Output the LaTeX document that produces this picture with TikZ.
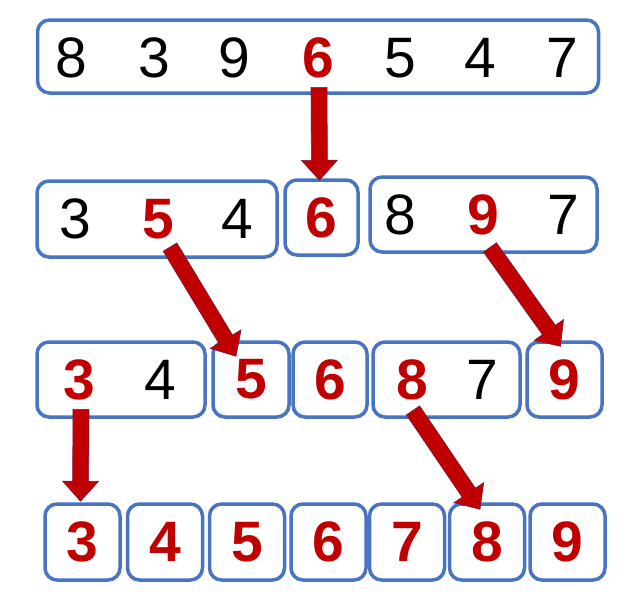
\documentclass[tikz,border=0pt]{standalone}
\usepackage{fontspec}
\setmainfont{Liberation Sans}
\usetikzlibrary{calc}
\definecolor{boxblue}{RGB}{72,116,194}
\definecolor{numred}{RGB}{192,0,0}
\definecolor{arrowedge}{RGB}{120,25,70}
\tikzset{
  box/.style={draw=boxblue, line width=3.5pt, rounded corners=12pt, minimum height=75pt, inner sep=0pt, fill=white},
  num/.style={font=\fontsize{57}{57}\selectfont, text=black, inner sep=0pt},
  hot/.style={font=\fontsize{57}{57}\selectfont\bfseries, text=numred, inner sep=0pt},
  arrowfill/.style={fill=numred, draw=arrowedge, line width=0.6pt, line join=miter},
}
\newcommand\blkarrow[2]{%
  \coordinate (hb) at ($(#2)!20pt!(#1)$);
  \filldraw[arrowfill] ($(#1)!8pt!90:(#2)$) -- ($(hb)!8pt!-90:(#1)$) -- ($(hb)!18pt!-90:(#1)$) -- (#2)
     -- ($(hb)!18pt!90:(#1)$) -- ($(hb)!8pt!90:(#1)$) -- ($(#1)!8pt!-90:(#2)$) -- cycle;}
\begin{document}
\begin{tikzpicture}[x=1pt,y=-1pt]
\useasboundingbox[fill=white] (0,0) rectangle (625,597);
% row 1
\node[box, minimum width=561pt, minimum height=73pt] (r1) at (318,56.5) {};
\node[num] (r1d1) at (71,58) {8};
\node[num] (r1d2) at (154,58) {3};
\node[num] (r1d3) at (234,58) {9};
\node[hot] (r1d4) at (318,58) {6};
\node[num] (r1d5) at (400,58) {5};
\node[num] (r1d6) at (480,58) {4};
\node[num] (r1d7) at (562,58) {7};
% row 2
\node[box, minimum width=240pt, minimum height=76pt] (r2a) at (157,219) {};
\node[num] (r2d1) at (75,219) {3};
\node[hot] (r2d2) at (158,219) {5};
\node[num] (r2d3) at (237,219) {4};
\node[box, minimum width=73pt, hot] (r2b) at (321.5,217.5) {6};
\node[box, minimum width=227pt] (r2c) at (483.5,214.5) {};
\node[num] (r2d5) at (400,215) {8};
\node[hot] (r2d6) at (483,215) {9};
\node[num] (r2d7) at (563,215) {7};
% row 3
\node[box, minimum width=168pt] (r3a) at (121,379.5) {};
\node[hot] (r3d1) at (79,380) {3};
\node[num] (r3d2) at (160,380) {4};
\node[box, minimum width=76pt, hot] (r3b) at (251,379.5) {5};
\node[box, minimum width=74pt, hot] (r3c) at (330,379.5) {6};
\node[box, minimum width=147pt] (r3d) at (446.5,379.5) {};
\node[hot] (r3d4) at (412,380) {8};
\node[num] (r3d5) at (482,380) {7};
\node[box, minimum width=75pt, hot] (r3e) at (564.5,379.5) {9};
% row 4
\node[box, minimum width=75pt, minimum height=76pt, hot] (r4a) at (82.5,542) {3};
\node[box, minimum width=75pt, minimum height=76pt, hot] (r4b) at (165,542) {4};
\node[box, minimum width=75pt, minimum height=76pt, hot] (r4c) at (247,542) {5};
\node[box, minimum width=75pt, minimum height=76pt, hot] (r4d) at (328.5,542) {6};
\node[box, minimum width=75pt, minimum height=76pt, hot] (r4e) at (407,542) {7};
\node[box, minimum width=75pt, minimum height=76pt, hot] (r4f) at (487,542) {8};
\node[box, minimum width=75pt, minimum height=76pt, hot] (r4g) at (567.5,542) {9};
% arrows
\coordinate (a1s) at ($(r1d4.south)+(1,9)$);
\coordinate (a1e) at ($(r2b.north)+(-2,2)$);
\coordinate (a2s) at ($(r2d2.south)+(12,8)$);
\coordinate (a2e) at ($(r3b.north)+(-15,16)$);
\coordinate (a3s) at ($(r2d6.south)+(7,12)$);
\coordinate (a3e) at ($(r3e.north)+(-4,6)$);
\coordinate (a4s) at ($(r3d1.south)+(2,9)$);
\coordinate (a4e) at ($(r4a.north)+(-2,-1)$);
\coordinate (a5s) at ($(r3d4.south)+(1,10)$);
\coordinate (a5e) at ($(r4f.north)+(-7,7)$);
\blkarrow{a1s}{a1e}
\blkarrow{a2s}{a2e}
\blkarrow{a3s}{a3e}
\blkarrow{a4s}{a4e}
\blkarrow{a5s}{a5e}
\end{tikzpicture}
\end{document}
